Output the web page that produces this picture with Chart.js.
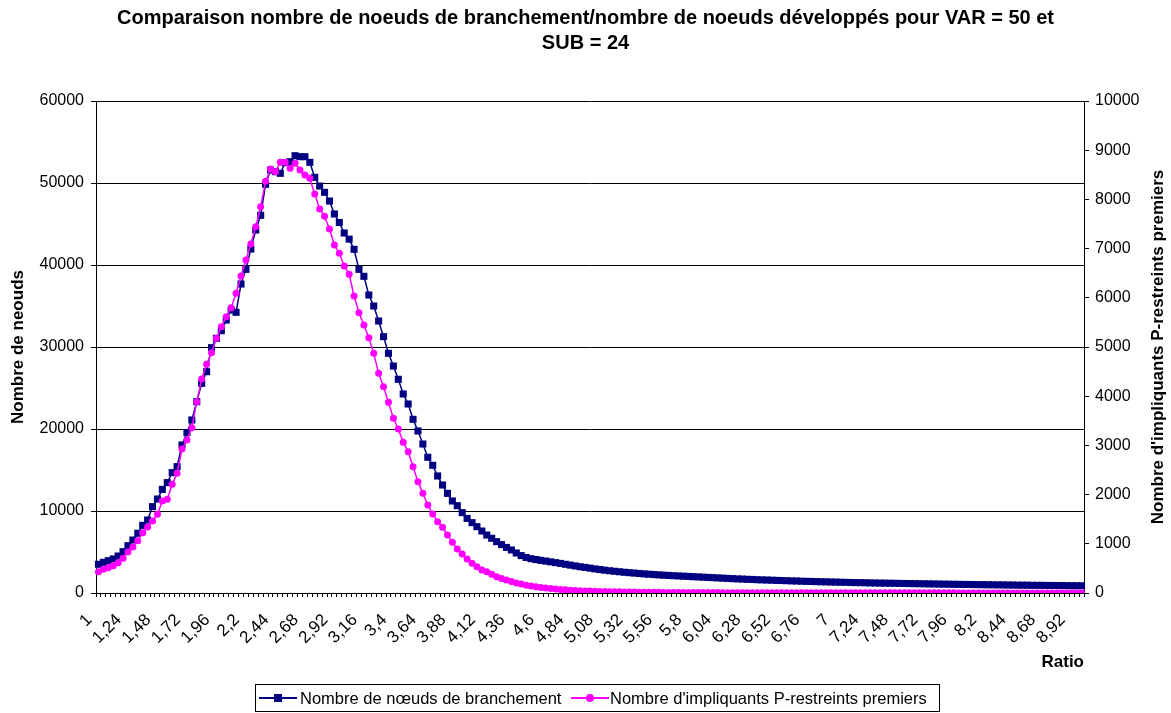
<!DOCTYPE html>
<html>
<head>
<meta charset="utf-8">
<script src="https://cdn.jsdelivr.net/npm/chart.js@4.4.0/dist/chart.umd.min.js"></script>
<style>
  body { margin: 0; background: #fff; font-family: "Liberation Sans", Arial, sans-serif; }
  #wrap { position: relative; width: 1171px; height: 713px; }
  #title { position: absolute; left: 0; top: 5px; width: 1171px; text-align: center;
           font-weight: bold; font-size: 20px; line-height: 25px; color: #000; }
  #legend { position: absolute; left: 255px; top: 684px; width: 683px; height: 26px;
            border: 1px solid #000; font-size: 16.5px; color: #000; }
  .item { position: absolute; top: 0; height: 26px; line-height: 26px; white-space: nowrap; }
  .sample { position: absolute; top: 8px; width: 38px; height: 10px; }
  .sample .ln { position: absolute; left: 0; right: 0; top: 4px; height: 2px; }
  .sample .mk { position: absolute; left: 15px; top: 1px; width: 8px; height: 8px; }
</style>
</head>
<body>
<div id="wrap">
  <canvas id="chart" width="1171" height="713"></canvas>
  <div id="title">Comparaison nombre de noeuds de branchement/nombre de noeuds développés pour VAR = 50 et<br>SUB = 24</div>
  <div id="legend">
    <div class="sample" style="left:3px"><div class="ln" style="background:#000080"></div><div class="mk" style="background:#000080"></div></div>
    <div class="item" style="left:44px">Nombre de nœuds de branchement</div>
    <div class="sample" style="left:315px"><div class="ln" style="background:#ff00ff"></div><div class="mk" style="background:#ff00ff;border-radius:50%"></div></div>
    <div class="item" style="left:354px">Nombre d'impliquants P-restreints premiers</div>
  </div>
</div>
<script>
// catégories (ratio)
const ratios = [
  1, 1.04, 1.08, 1.12, 1.16, 1.2, 1.24, 1.28, 1.32, 1.36, 1.4, 1.44, 1.48, 1.52, 1.56, 1.6, 1.64, 1.68, 1.72, 1.76, 1.8, 1.84, 1.88, 1.92, 1.96,
  2, 2.04, 2.08, 2.12, 2.16, 2.2, 2.24, 2.28, 2.32, 2.36, 2.4, 2.44, 2.48, 2.52, 2.56, 2.6, 2.64, 2.68, 2.72, 2.76, 2.8, 2.84, 2.88, 2.92, 2.96,
  3, 3.04, 3.08, 3.12, 3.16, 3.2, 3.24, 3.28, 3.32, 3.36, 3.4, 3.44, 3.48, 3.52, 3.56, 3.6, 3.64, 3.68, 3.72, 3.76, 3.8, 3.84, 3.88, 3.92, 3.96,
  4, 4.04, 4.08, 4.12, 4.16, 4.2, 4.24, 4.28, 4.32, 4.36, 4.4, 4.44, 4.48, 4.52, 4.56, 4.6, 4.64, 4.68, 4.72, 4.76, 4.8, 4.84, 4.88, 4.92, 4.96,
  5, 5.04, 5.08, 5.12, 5.16, 5.2, 5.24, 5.28, 5.32, 5.36, 5.4, 5.44, 5.48, 5.52, 5.56, 5.6, 5.64, 5.68, 5.72, 5.76, 5.8, 5.84, 5.88, 5.92, 5.96,
  6, 6.04, 6.08, 6.12, 6.16, 6.2, 6.24, 6.28, 6.32, 6.36, 6.4, 6.44, 6.48, 6.52, 6.56, 6.6, 6.64, 6.68, 6.72, 6.76, 6.8, 6.84, 6.88, 6.92, 6.96,
  7, 7.04, 7.08, 7.12, 7.16, 7.2, 7.24, 7.28, 7.32, 7.36, 7.4, 7.44, 7.48, 7.52, 7.56, 7.6, 7.64, 7.68, 7.72, 7.76, 7.8, 7.84, 7.88, 7.92, 7.96,
  8, 8.04, 8.08, 8.12, 8.16, 8.2, 8.24, 8.28, 8.32, 8.36, 8.4, 8.44, 8.48, 8.52, 8.56, 8.6, 8.64, 8.68, 8.72, 8.76, 8.8, 8.84, 8.88, 8.92, 8.96,
  9
];
const ratioLabels = ratios.map(r => String(r).replace('.', ','));

// nombre de noeuds de branchement (axe gauche)
const noeudsBranchement = [
  3500, 3740, 3940, 4150, 4510, 5040, 5770, 6460, 7280, 8250,
  8900, 10530, 11460, 12640, 13460, 14680, 15410, 18050, 19550, 21100,
  23330, 25570, 26990, 29920, 31060, 31990, 33290, 34510, 34230, 37680,
  39470, 41950, 44270, 46060, 49840, 51580, 51380, 51180, 52480, 52600,
  53330, 53210, 53210, 52520, 50690, 49630, 48860, 47800, 46220, 45180,
  43900, 43150, 41910, 39470, 38620, 36340, 35000, 33170, 31260, 29230,
  27680, 26060, 24270, 23050, 21180, 19760, 18170, 16550, 15570, 14270,
  13170, 12150, 11220, 10650, 9800, 9100, 8580, 8090, 7560, 7070,
  6670, 6260, 5900, 5560, 5250, 4880, 4560, 4330, 4180, 4080,
  3980, 3890, 3800, 3700, 3610, 3500, 3400, 3300, 3200, 3120,
  3030, 2940, 2860, 2780, 2710, 2650, 2590, 2530, 2480, 2430,
  2380, 2330, 2290, 2250, 2210, 2170, 2140, 2110, 2080, 2050,
  2020, 1990, 1960, 1930, 1900, 1870, 1840, 1810, 1780, 1750,
  1720, 1700, 1670, 1650, 1620, 1600, 1580, 1560, 1540, 1520,
  1500, 1480, 1460, 1440, 1420, 1410, 1390, 1370, 1360, 1340,
  1330, 1310, 1300, 1280, 1270, 1260, 1250, 1230, 1220, 1210,
  1200, 1190, 1180, 1170, 1160, 1150, 1140, 1130, 1120, 1110,
  1100, 1090, 1080, 1070, 1060, 1055, 1045, 1040, 1030, 1020,
  1015, 1005, 1000, 990, 985, 975, 970, 960, 955, 950,
  940, 935, 930, 920, 915, 910, 905, 900, 890, 885,
  880
];

// nombre d'impliquants P-restreints premiers (axe droit)
const impliquants = [
  434, 481, 515, 556, 617, 705, 833, 935, 1064, 1226,
  1341, 1463, 1599, 1870, 1904, 2209, 2432, 2927, 3110, 3360,
  3889, 4350, 4648, 4885, 5177, 5413, 5616, 5799, 6091, 6443,
  6768, 7093, 7446, 7852, 8367, 8618, 8564, 8753, 8753, 8631,
  8733, 8597, 8496, 8428, 8110, 7805, 7656, 7398, 7073, 6904,
  6646, 6477, 6036, 5698, 5447, 5190, 4871, 4465, 4194, 3875,
  3550, 3333, 3062, 2873, 2568, 2263, 2026, 1789, 1606, 1450,
  1335, 1179, 1030, 894, 793, 691, 603, 535, 467, 434,
  379, 332, 295, 262, 232, 205, 182, 160, 142, 126,
  112, 100, 89, 80, 72, 65, 58, 52, 47, 43,
  39, 35, 32, 29, 27, 25, 23, 21, 19, 18,
  17, 16, 15, 14, 13, 12, 12, 11, 11, 10,
  10, 9, 9, 9, 8, 8, 8, 7, 7, 7,
  7, 6, 6, 6, 6, 6, 5, 5, 5, 5,
  5, 5, 5, 4, 4, 4, 4, 4, 4, 4,
  4, 4, 4, 3, 3, 3, 3, 3, 3, 3,
  3, 3, 3, 3, 3, 3, 3, 3, 3, 3,
  3, 3, 3, 3, 3, 2, 2, 2, 2, 2,
  2, 2, 2, 2, 2, 2, 2, 2, 2, 2,
  2, 2, 2, 2, 2, 2, 2, 2, 2, 2,
  2
];

const leftTicks = [0, 10000, 20000, 30000, 40000, 50000, 60000];
const rightTicks = [0, 1000, 2000, 3000, 4000, 5000, 6000, 7000, 8000, 9000, 10000];

const FONT = "'Liberation Sans', Arial, sans-serif";
const PLOT_LEFT = 96, PLOT_RIGHT = 1084, PLOT_TOP = 101, PLOT_BOTTOM = 593;

// titre de l'axe droit (lu de bas en haut comme dans Excel)
const rightTitlePlugin = {
  id: 'rightTitle',
  afterDraw(chart) {
    const ctx = chart.ctx;
    ctx.save();
    ctx.translate(1158, (PLOT_TOP + PLOT_BOTTOM) / 2);
    ctx.rotate(-Math.PI / 2);
    ctx.font = 'bold 17px ' + FONT;
    ctx.fillStyle = '#000';
    ctx.textAlign = 'center';
    ctx.textBaseline = 'middle';
    ctx.fillText("Nombre d'impliquants P-restreints premiers", 0, 0);
    ctx.restore();
  }
};

new Chart(document.getElementById('chart'), {
  type: 'line',
  data: {
    labels: ratioLabels,
    datasets: [
      {
        label: 'Nombre de nœuds de branchement',
        data: noeudsBranchement,
        yAxisID: 'y',
        order: 1,
        borderColor: '#000080',
        backgroundColor: '#000080',
        borderWidth: 1.5,
        pointStyle: 'rect',
        pointRadius: 5,
        pointBorderWidth: 0,
        pointBackgroundColor: '#000080',
        tension: 0
      },
      {
        label: "Nombre d'impliquants P-restreints premiers",
        data: impliquants,
        yAxisID: 'y1',
        order: 0,
        borderColor: '#ff00ff',
        backgroundColor: '#ff00ff',
        borderWidth: 1.5,
        pointStyle: 'circle',
        pointRadius: 3.5,
        pointBorderWidth: 0,
        pointBackgroundColor: '#ff00ff',
        tension: 0
      }
    ]
  },
  options: {
    responsive: false,
    animation: false,
    devicePixelRatio: 1,
    layout: { padding: { left: 4, right: 0, top: PLOT_TOP, bottom: 38 } },
    plugins: {
      legend: { display: false },
      tooltip: { enabled: false },
      title: { display: false }
    },
    scales: {
      x: {
        type: 'category',
        offset: true,
        grid: { offset: true, drawOnChartArea: false, drawTicks: true, tickLength: 4, color: '#000' },
        border: { color: '#000', width: 1 },
        ticks: {
          autoSkip: false,
          minRotation: 45,
          maxRotation: 45,
          padding: 13,
          labelOffset: -9,
          color: '#000',
          font: { family: FONT, size: 17 },
          callback: function(val, index) {
            return index % 6 === 0 ? ratioLabels[index] : '';
          }
        },
        title: {
          display: true,
          text: 'Ratio',
          align: 'end',
          color: '#000',
          font: { family: FONT, size: 17, weight: 'bold' },
          padding: { top: 0, bottom: 2 }
        },
        afterFit: function(scale) { scale.height = 713 - 38 - PLOT_BOTTOM; }
      },
      y: {
        position: 'left',
        min: 0,
        max: 60000,
        afterBuildTicks: function(scale) { scale.ticks = leftTicks.map(v => ({ value: v })); },
        grid: { color: '#000', lineWidth: 1, drawTicks: true, tickLength: 5 },
        border: { color: '#000', width: 1 },
        ticks: {
          padding: 7,
          color: '#000',
          font: { family: FONT, size: 16 },
          callback: function(value) { return String(value); }
        },
        title: {
          display: true,
          text: 'Nombre de neouds',
          color: '#000',
          font: { family: FONT, size: 17, weight: 'bold' },
          padding: { top: 4, bottom: 0 }
        },
        afterFit: function(scale) { scale.width = PLOT_LEFT - 4; }
      },
      y1: {
        position: 'right',
        min: 0,
        max: 10000,
        afterBuildTicks: function(scale) { scale.ticks = rightTicks.map(v => ({ value: v })); },
        grid: { drawOnChartArea: false, drawTicks: true, tickLength: 5, color: '#000' },
        border: { color: '#000', width: 1 },
        ticks: {
          padding: 6,
          color: '#000',
          font: { family: FONT, size: 16 },
          callback: function(value) { return String(value); }
        },
        afterFit: function(scale) { scale.width = 1171 - PLOT_RIGHT; }
      }
    }
  },
  plugins: [rightTitlePlugin]
});
</script>
</body>
</html>
